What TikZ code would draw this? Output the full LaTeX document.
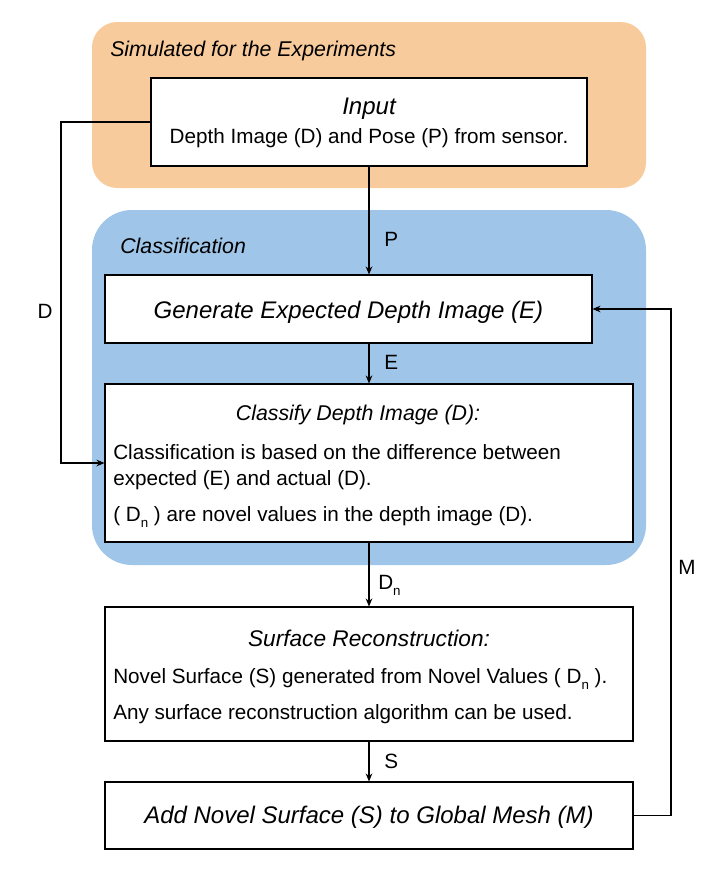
\documentclass[tikz,border=0pt]{standalone}
\usepackage{fontspec}
\setmainfont{Liberation Sans}
\usepackage{xcolor}
\usepackage{tikz}
\usetikzlibrary{arrows.meta, positioning}
\definecolor{simorange}{RGB}{248,203,156}
\definecolor{classblue}{RGB}{159,197,232}
\newcommand{\Dn}{D\raisebox{-0.55ex}{\fontsize{10}{11}\selectfont n}}
\tikzset{
    boxnode/.style = {draw, rectangle, fill=white, inner sep = 0em, line width=0.8pt},
    textnode/.style = {draw=none, fill=none, rectangle, inner sep = 0em, 
      font=\fontsize{15.5}{18}\selectfont},
    titlenode/.style = {textnode, font=\fontsize{16}{19}\selectfont\itshape},
    bigtitlenode/.style = {textnode, font=\fontsize{18}{21}\selectfont\itshape},
    connect/.style = {black, line width=0.9pt, -{Stealth[length=6pt, width=5pt]}},
    plain/.style = {black, line width=0.9pt}
}
\begin{document}
\begin{tikzpicture}[x=0.75pt, y=-0.75pt]
    \useasboundingbox (0,0) rectangle (722,871);

    % groups
    \fill [simorange, rounded corners=19pt] (92,22) rectangle (646,188);
    \fill [classblue, rounded corners=30pt] (92,210) rectangle (646,565);
    \node [name=simtitle, titlenode, anchor=mid west] at (110,53) {Simulated for the Experiments};
    \node [name=clstitle, titlenode, anchor=mid west] at (120,250) {Classification};

    % boxes
    \node [name=inp, boxnode, minimum width=327pt, minimum height=66pt] at (369,122) {};
    \node [name=gen, boxnode, minimum width=365.25pt, minimum height=51pt] at (348.5,309) {};
    \node [name=cls, boxnode, minimum width=396pt, minimum height=118.5pt] at (369,463) {};
    \node [name=srf, boxnode, minimum width=396pt, minimum height=100.5pt] at (369,674) {};
    \node [name=add, boxnode, minimum width=396pt, minimum height=50.25pt] at (369,815.5) {};

    % box texts
    \node [name=inp1, bigtitlenode, anchor=mid] at (369,111) {Input};
    \node [name=inp2, textnode, anchor=mid] at (369,140) {Depth Image (D) and Pose (P) from sensor.};
    \node [name=gen1, bigtitlenode, anchor=mid] at (348.5,315) {Generate Expected Depth Image (E)};
    \node [name=cls1, titlenode, anchor=mid] at (358,417) {Classify Depth Image (D):};
    \node [name=cls2, textnode, anchor=mid west] at (113,456) {Classification is based on the difference between};
    \node [name=cls3, textnode, anchor=mid west] at (113,482) {expected (E) and actual (D).};
    \node [name=cls4, textnode, anchor=mid west] at (113,518) {( \Dn\ ) are novel values in the depth image (D).};
    \node [name=srf1, titlenode, font=\fontsize{17}{20}\selectfont\itshape, anchor=mid] at (369,643) {Surface Reconstruction:};
    \node [name=srf2, textnode, anchor=mid west] at (113,680) {Novel Surface (S) generated from Novel Values ( \Dn\ ).};
    \node [name=srf3, textnode, anchor=mid west] at (113,716) {Any surface reconstruction algorithm can be used.};
    \node [name=add1, bigtitlenode, anchor=mid] at (369,820) {Add Novel Surface (S) to Global Mesh (M)};

    % connectors
    \draw [connect] (inp.south) -- (inp.south |- gen.north);
    \draw [connect] (gen.south -| inp.south) -- (cls.north);
    \draw [connect] (cls.south) -- (srf.north);
    \draw [connect] (srf.south) -- (add.north);

    \coordinate (dturn) at (61,122);
    \draw [connect] (inp.west) -- (dturn) |- (cls.west);
    \coordinate (mturn) at (671,560);
    \draw [plain] (add.east) -| (mturn);
    \draw [connect] (mturn) |- (gen.east);

    % labels
    \node [name=lp, textnode, anchor=mid west] at (384,243) {P};
    \node [name=le, textnode, anchor=mid west] at (384,366) {E};
    \node [name=ldn, textnode, anchor=mid west] at (378,586) {\Dn};
    \node [name=ls, textnode, anchor=mid west] at (384,765) {S};
    \node [name=ld, textnode] at (45,311) {D};
    \node [name=lm, textnode] at (687,567) {M};
\end{tikzpicture}
\end{document}
